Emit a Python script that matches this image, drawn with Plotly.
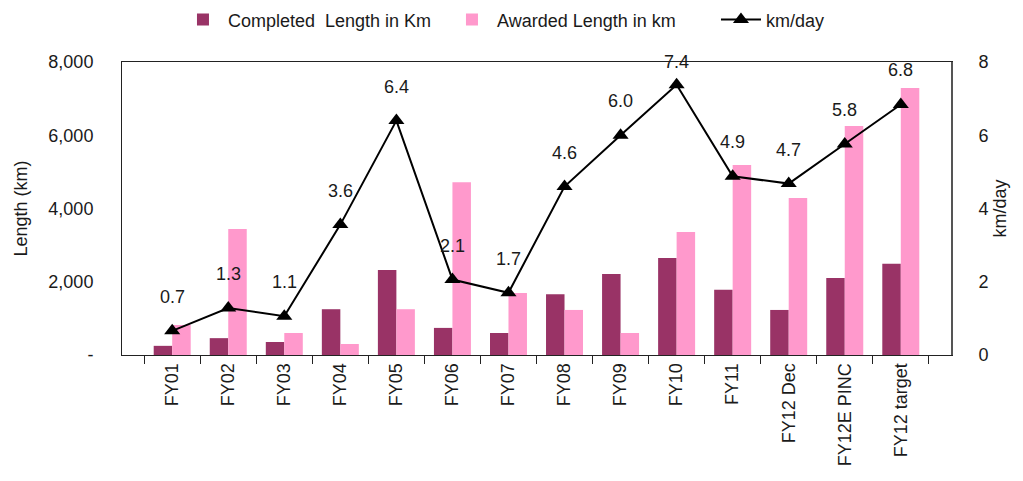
import plotly.graph_objects as go

categories = ["FY01", "FY02", "FY03", "FY04", "FY05", "FY06", "FY07", "FY08",
              "FY09", "FY10", "FY11", "FY12 Dec", "FY12E PINC", "FY12 target"]
completed_km = [250, 460, 355, 1250, 2320, 740, 600, 1660, 2210, 2650, 1780, 1230, 2100, 2490]
awarded_km = [820, 3440, 600, 300, 1250, 4720, 1690, 1230, 600, 3360, 5190, 4290, 6250, 7290]
km_per_day = [0.66, 1.28, 1.06, 3.56, 6.4, 2.06, 1.7, 4.6, 6.0, 7.38, 4.88, 4.68, 5.76, 6.84]
left_ticks = [0, 2000, 4000, 6000, 8000]
left_ticktext = ["-", "2,000", "4,000", "6,000", "8,000"]
right_ticks = [0, 2, 4, 6, 8]

FONT = "Liberation Sans, Arial, sans-serif"
TXT = "#1a1a1a"

# page body has an 8px default margin, so the figure is 8px smaller than the window
W, H = 1015, 473
ML, MR, MT, MB = 114, 72, 54, 126
plot_h = H - MT - MB
y2_max = 8

fig = go.Figure()
fig.add_trace(go.Bar(x=categories, y=completed_km, name="Completed  Length in Km",
                     marker=dict(color="#993366", line=dict(width=0))))
fig.add_trace(go.Bar(x=categories, y=awarded_km, name="Awarded Length in km",
                     marker=dict(color="#FF99CC", line=dict(width=0))))
fig.add_trace(go.Scatter(x=categories, y=km_per_day, name="km/day", yaxis="y2",
                         mode="lines+markers",
                         line=dict(color="black", width=2),
                         marker=dict(symbol="triangle-up", size=14, color="black")))

# data labels above each point (kept inside the plot's top edge, like the source)
for c, v in zip(categories, km_per_day):
    room = plot_h - v / y2_max * plot_h  # distance of point from plot top
    shift = min(34, room)
    fig.add_annotation(x=c, y=v, yref="y2", text=f"{v:.1f}", showarrow=False,
                       yshift=shift, font=dict(family=FONT, size=18, color=TXT))

fig.update_layout(
    width=W, height=H,
    margin=dict(l=ML, r=MR, t=MT, b=MB, autoexpand=False),
    paper_bgcolor="white", plot_bgcolor="white",
    barmode="group", bargap=0.34, bargroupgap=0,
    showlegend=True,
    legend=dict(orientation="h", x=0.565, xanchor="center", y=0.975, yanchor="middle",
                yref="container", xref="container",
                font=dict(family=FONT, size=18, color=TXT),
                itemwidth=40, entrywidth=214, entrywidthmode="pixels",
                traceorder="normal", bgcolor="rgba(0,0,0,0)"),
    xaxis=dict(type="category", showline=True, linecolor="#222", linewidth=1, mirror=True,
               ticks="outside", tickson="boundaries", ticklen=8, tickcolor="#222",
               tickangle=-90, tickfont=dict(family=FONT, size=18, color=TXT),
               showgrid=False, automargin=False),
    yaxis=dict(range=[0, 8000], tickvals=left_ticks, ticktext=left_ticktext,
               showline=True, linecolor="#222", linewidth=1, showgrid=False,
               zeroline=False, ticks="", ticklabelstandoff=24, automargin=False,
               tickfont=dict(family=FONT, size=18, color=TXT),
               title=dict(text="Length (km)", font=dict(family=FONT, size=18, color=TXT),
                          standoff=16)),
    yaxis2=dict(range=[0, y2_max], tickvals=right_ticks, overlaying="y", side="right",
                showline=True, linecolor="#555", linewidth=2, showgrid=False,
                zeroline=False, ticks="", ticklabelstandoff=22, automargin=False,
                tickfont=dict(family=FONT, size=18, color=TXT),
                title=dict(text="km/day", font=dict(family=FONT, size=18, color=TXT),
                           standoff=6)),
)

fig.write_html("out.html")
